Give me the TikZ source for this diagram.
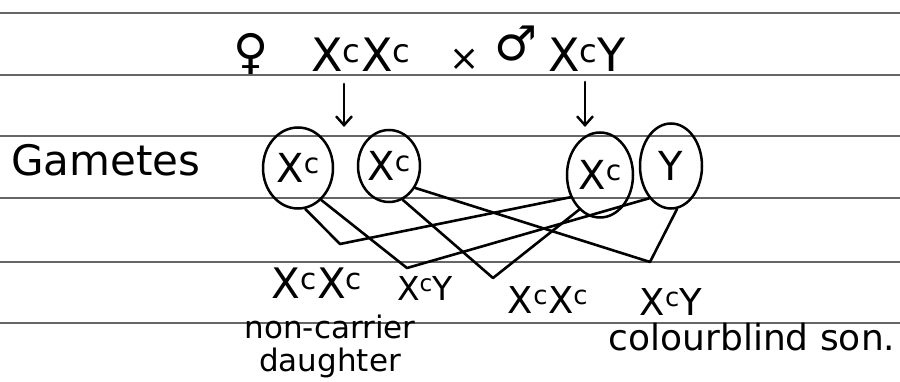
\documentclass[tikz,border=0pt]{standalone}
\usepackage{fontspec}
\setmainfont{DejaVu Sans}
\usetikzlibrary{arrows.meta,shapes.geometric}
\newcommand\Xc{X\textsuperscript{c}}
\newcommand\fsz[1]{\fontsize{#1}{#1}\selectfont}
\begin{document}
\begin{tikzpicture}[x=1pt,y=-1pt,
  rule/.style={draw=black!60,line width=1.3pt},
  ink/.style={draw=black,line width=2.6pt,line cap=round,line join=round},
  arr/.style={ink,-{Straight Barb[length=9pt,width=16pt,line width=2.4pt]}},
  gam/.style={ellipse,draw=black,line width=2.5pt,inner sep=0pt,font=\fsz{40}},
  txt/.style={inner sep=0pt,text=black}]
\useasboundingbox (0,0) rectangle (900,382);
\fill[white] (0,0) rectangle (900,382);
\foreach \y in {13,75,136,198,262,323} \draw[rule] (0,\y) -- (900,\y);

% parents
\node[txt,font=\fsz{48}] (fem) at (251,54) {♀};
\node[txt,font=\fsz{46}] (ff) at (361,55) {\Xc\Xc};
\node[txt,font=\fsz{36}] (cross) at (465,60) {×};
\node[txt,font=\fsz{48}] (male) at (516,44) {♂};
\node[txt,font=\fsz{46}] (mm) at (587,55) {\Xc Y};

\coordinate (a1s) at (344,84);
\coordinate (a1e) at (344,127);
\coordinate (a2s) at (585,82);
\coordinate (a2e) at (585,127);
\draw[arr] (a1s) -- (a1e);
\draw[arr] (a2s) -- (a2e);

% gametes
\node[txt,font=\fsz{42}] (gl) at (106,160) {Gametes};
\node[gam,minimum width=70pt,minimum height=81pt] (f1) at (298,168) {\Xc};
\node[gam,minimum width=62pt,minimum height=72pt] (f2) at (389,166) {\Xc};
\node[gam,minimum width=66pt,minimum height=85pt] (m1) at (600,175) {\Xc};
\node[gam,minimum width=62pt,minimum height=85pt] (my) at (671,166) {Y};

% offspring
\node[txt,font=\fsz{42}] (o1) at (317,283) {\Xc\Xc};
\node[txt,font=\fsz{33}] (o2) at (425,288) {\Xc Y};
\node[txt,font=\fsz{37}] (o3) at (548,300) {\Xc\Xc};
\node[txt,font=\fsz{37}] (o4) at (671,302) {\Xc Y};

\node[txt,font=\fontsize{31}{33}\selectfont,align=center] (l1) at (330,346) {non-carrier\\daughter};
\node[txt,font=\fsz{36}] (l2) at (752,337) {colourblind son.};

% crosses
\coordinate (v1) at (340,244);
\coordinate (v2) at (407,268);
\coordinate (v3) at (493,278);
\coordinate (v4) at (650,262);
\draw[ink] (f1.-80) -- (v1) -- (m1.217);
\draw[ink] (f1.-54) -- (v2) -- (my.236);
\draw[ink] (f2.-68) -- (v3) -- (m1.239);
\draw[ink] (f2.-40) -- (v4) -- (my.-82);
\end{tikzpicture}
\end{document}
